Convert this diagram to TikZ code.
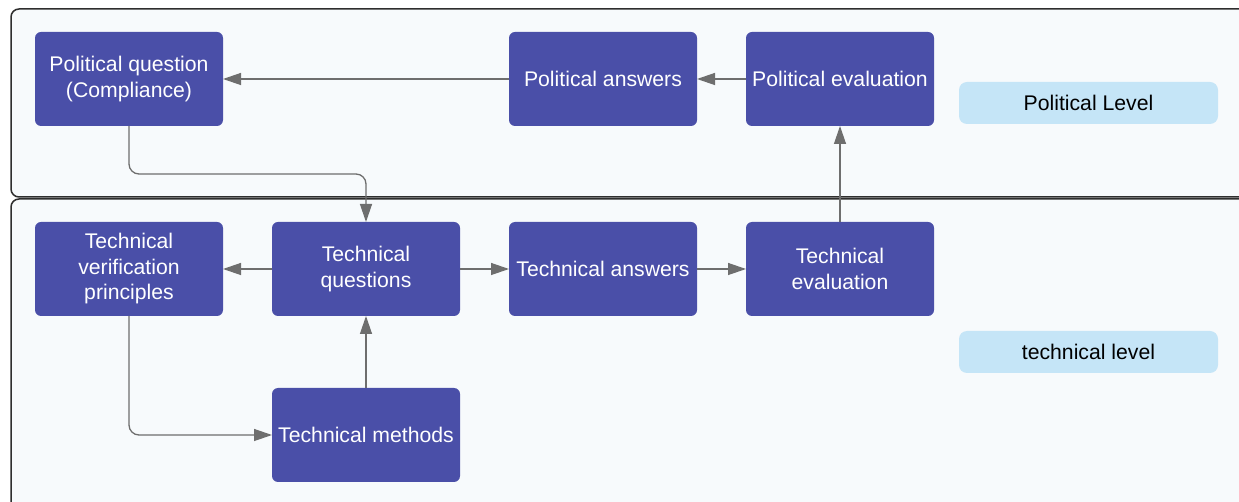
\documentclass[tikz,border=0pt]{standalone}
\usepackage{fontspec}
\setmainfont{Liberation Sans}
\usetikzlibrary{positioning,arrows.meta}
\definecolor{boxblue}{HTML}{4A4FA8}
\definecolor{levelblue}{HTML}{C5E5F7}
\definecolor{framebg}{HTML}{F7FAFC}
\definecolor{arrowgray}{HTML}{6E6E6E}
\definecolor{framegray}{HTML}{2E2E2E}

\begin{document}
\begin{tikzpicture}[->,>={Triangle[length=9pt,width=6pt]},node distance=24.5pt,
    main node/.style={rectangle,rounded corners=3pt,fill=boxblue,text=white,minimum width=94pt,minimum height=47pt,inner sep=2pt,outer sep=0pt,align=center,font=\fontsize{10.6}{12.75}\selectfont},
    level node/.style={rectangle,rounded corners=4pt,fill=levelblue,text=black,minimum width=129.5pt,minimum height=21pt,outer sep=0pt,font=\fontsize{10.6}{12.75}\selectfont},
    frame/.style={-,draw=framegray,fill=framebg,line width=0.75pt,rounded corners=4pt},
    link/.style={draw=arrowgray,line width=0.65pt}]
            \useasboundingbox (0,0) rectangle (619.5pt,-251pt);
            \clip (0,0) rectangle (619.5pt,-251pt);
            \fill[white] (0,0) rectangle (619.5pt,-251pt);

            % the two levels
            \draw[frame] (5.5pt,-4.5pt) rectangle (630pt,-98.5pt);
            \draw[frame] (5.5pt,-99.5pt) rectangle (630pt,-262pt);

            \node[main node] (5) at (64.5pt,-134.5pt) {Technical\\verification\\principles};
            \node[main node] (6) [right=of 5] {Technical\\questions};
            \node[main node] (7) [right=of 6] {Technical answers};
            \node[main node] (8) [right=of 7] {Technical\\evaluation};
            \node[main node] (9) [below=36pt of 6] {Technical methods};
            \node[main node] (1) [above=48pt of 5] {Political question\\(Compliance)};
            \node[main node] (2) [above=48pt of 7] {Political answers};
            \node[main node] (3) [above=48pt of 8] {Political evaluation};
            \node[level node] (4) at (544.25pt,-51.5pt) {Political Level};
            \node[level node] (10) at (544.25pt,-176pt) {technical level};

            \path[every edge/.style=link]
                    (2) edge (1)
                    (3) edge (2)
                    (6) edge (5)
                    (6) edge (7)
                    (7) edge (8)
                    (8) edge (3)
                    (9) edge (6)
                ;
            \draw[link,rounded corners=5pt] (1.south) -- ++(0,-24pt) -| (6.north);
            \draw[link,rounded corners=5pt] (5.south) |- (9.west);
        \end{tikzpicture}
\end{document}
